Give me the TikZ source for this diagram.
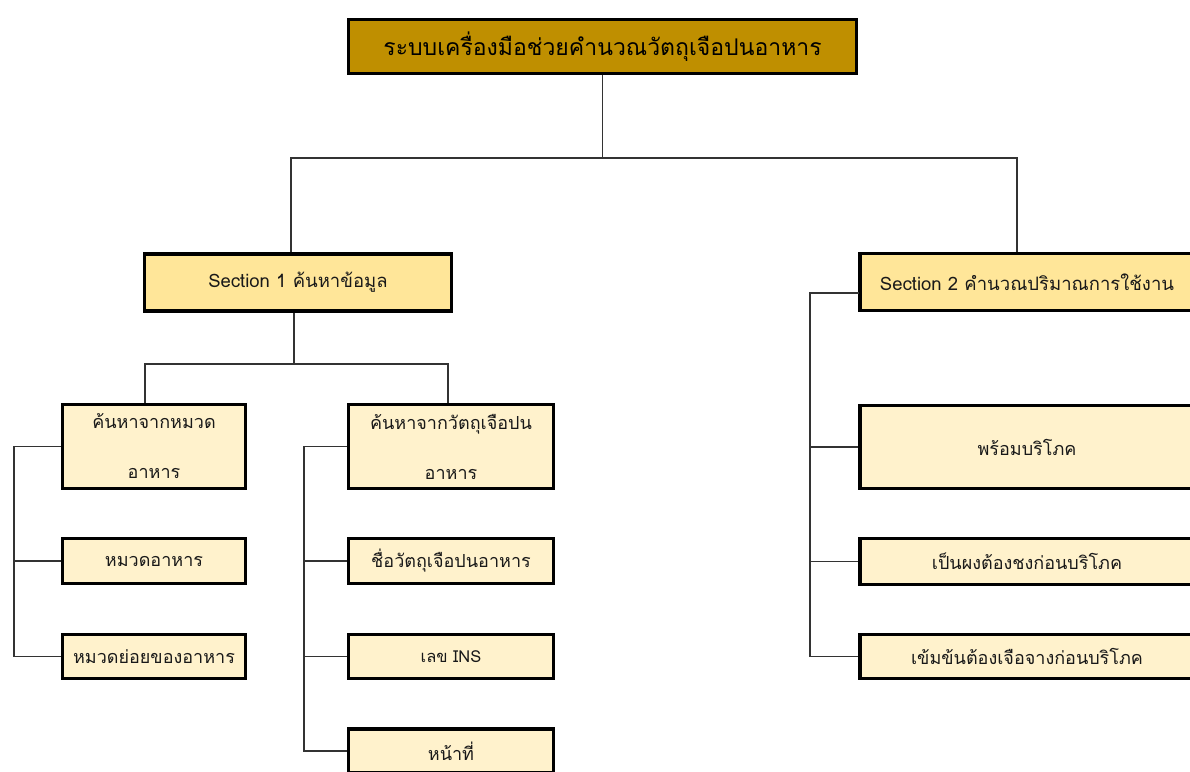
\documentclass[tikz,border=0pt]{standalone}
\usepackage{fontspec}
\newfontfamily\thai[Script=Thai]{Loma}
\definecolor{topfill}{HTML}{BF8F00}
\definecolor{secfill}{HTML}{FFE699}
\definecolor{leaffill}{HTML}{FFF2CC}
\definecolor{linec}{HTML}{333333}
\begin{document}
\begin{tikzpicture}[x=1pt,y=-1pt,
  box/.style={draw=black, line width=3.5pt, rectangle, inner sep=0pt, align=center, text=black!90,
              font=\thai\fontsize{18}{50}\selectfont},
  topbox/.style={box, fill=topfill, minimum width=508pt, minimum height=54pt, text=black,
              font=\thai\fontsize{23}{27}\selectfont},
  secbox/.style={box, fill=secfill, minimum height=57pt, font=\thai\fontsize{18.5}{22}\selectfont},
  leaf/.style={box, fill=leaffill},
  conn/.style={draw=linec, line width=1.6pt}]
\useasboundingbox (0,0) rectangle (1190,771);
\clip (0,0) rectangle (1190,771);
\fill[white] (0,0) rectangle (1190,771);

% nodes
\node[topbox] (top) at (602.5,46.5) {ระบบเครื่องมือช่วยคำนวณวัตถุเจือปนอาหาร};
\node[secbox, minimum width=307pt] (s1) at (298,282.5) {Section 1 ค้นหาข้อมูล};
\node[secbox, minimum width=334pt] (s2) at (1027,282) {Section 2 คำนวณปริมาณการใช้งาน};

\node[leaf, minimum width=183pt, minimum height=84pt] (A)  at (154,446.5) {ค้นหาจากหมวด\\อาหาร};
\node[leaf, minimum width=183pt, minimum height=45pt] (A1) at (154,561) {หมวดอาหาร};
\node[leaf, minimum width=183pt, minimum height=44pt] (A2) at (154,656.5) {หมวดย่อยของอาหาร};

\node[leaf, minimum width=205pt, minimum height=84pt] (B)  at (451,446.5) {ค้นหาจากวัตถุเจือปน\\อาหาร};
\node[leaf, minimum width=205pt, minimum height=45pt] (B1) at (451,561) {ชื่อวัตถุเจือปนอาหาร};
\node[leaf, minimum width=205pt, minimum height=44pt, font=\thai\fontsize{16.5}{20}\selectfont] (B2) at (451,656.5) {เลข INS};
\node[leaf, minimum width=205pt, minimum height=44pt] (B3) at (451,751) {หน้าที่};

\node[leaf, minimum width=334pt, minimum height=83pt] (C1) at (1027,447) {พร้อมบริโภค};
\node[leaf, minimum width=334pt, minimum height=46pt] (C2) at (1027,561.5) {เป็นผงต้องชงก่อนบริโภค};
\node[leaf, minimum width=334pt, minimum height=44pt] (C3) at (1027,656.5) {เข้มข้นต้องเจือจางก่อนบริโภค};

% junction coordinates
\coordinate (j0) at (602.5,158);
\coordinate (j1) at (291,158);
\coordinate (j2) at (1017,158);
\coordinate (k0) at (294,364);
\coordinate (k1) at (145,364);
\coordinate (k2) at (448,364);
\coordinate (ax) at (14,0);
\coordinate (bx) at (304,0);
\coordinate (cx) at (810,0);
\coordinate (s2t) at (859,293);

% connectors
\draw[conn] (top.south) -- (j0);
\draw[conn] (j1 |- s1.north) -- (j1) -- (j2) -- (j2 |- s2.north);
\draw[conn] (s1.south -| k0) -- (k0);
\draw[conn] (k1 |- A.north) -- (k1) -- (k2) -- (k2 |- B.north);

\draw[conn] (A.west) -- (A.west -| ax) -- (A2.west -| ax) -- (A2.west);
\draw[conn] (A1.west) -- (A1.west -| ax);

\draw[conn] (B.west) -- (B.west -| bx) -- (B3.west -| bx) -- (B3.west);
\draw[conn] (B1.west) -- (B1.west -| bx);
\draw[conn] (B2.west) -- (B2.west -| bx);

\draw[conn] (s2t) -- (s2t -| cx) -- (C3.west -| cx) -- (C3.west);
\draw[conn] (C1.west) -- (C1.west -| cx);
\draw[conn] (C2.west) -- (C2.west -| cx);
\end{tikzpicture}
\end{document}
